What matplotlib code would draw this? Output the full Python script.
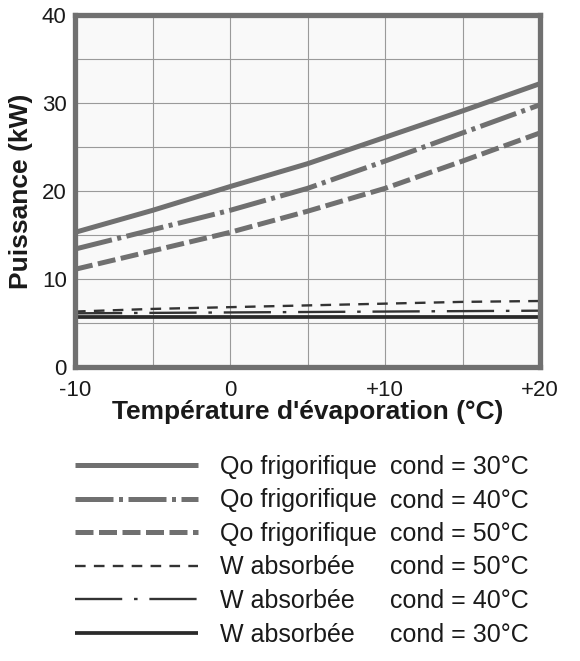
import matplotlib
matplotlib.use('Agg')
import matplotlib.pyplot as plt
from matplotlib.lines import Line2D
from matplotlib.ticker import MultipleLocator

plt.rcParams['font.family'] = ['Liberation Sans', 'DejaVu Sans']

# Température d'évaporation (°C)
temps = [-10, -5, 0, 5, 10, 15, 20]

# Puissance (kW)
qo_30 = [15.3, 17.8, 20.5, 23.1, 26.1, 29.1, 32.2]
qo_40 = [13.4, 15.6, 17.8, 20.3, 23.4, 26.6, 29.8]
qo_50 = [11.1, 13.2, 15.3, 17.7, 20.3, 23.4, 26.6]
w_50 = [6.3, 6.6, 6.8, 7.0, 7.2, 7.4, 7.5]
w_40 = [6.1, 6.15, 6.2, 6.25, 6.3, 6.35, 6.4]
w_30 = [5.65, 5.65, 5.65, 5.65, 5.65, 5.65, 5.65]

kinds = ['Qo frigorifique', 'Qo frigorifique', 'Qo frigorifique',
         'W absorbée', 'W absorbée', 'W absorbée']
conds = ['cond = 30°C', 'cond = 40°C', 'cond = 50°C',
         'cond = 50°C', 'cond = 40°C', 'cond = 30°C']

x_ticks = [-10, 0, 10, 20]
x_labels = ['-10', '0', '+10', '+20']

grey = '#707070'
dark = '#333333'
txt = '#1a1a1a'

fig = plt.figure(figsize=(5.8, 6.61), dpi=100)
ax = fig.add_axes([75 / 580, 1 - 367 / 661, 465 / 580, 352 / 661])
ax.set_facecolor('#f9f9f9')

series = [
    (qo_30, dict(color=grey, lw=3.6, linestyle='-')),
    (qo_40, dict(color=grey, lw=3.6, linestyle=(0, (7.6, 1.1, 0.8, 1.1)))),
    (qo_50, dict(color=grey, lw=3.6, linestyle=(0, (3.6, 1.1)))),
    (w_50, dict(color=dark, lw=1.7, linestyle=(0, (4.5, 3.5)))),
    (w_40, dict(color=dark, lw=1.7, linestyle=(0, (20, 5, 1.5, 5)))),
    (w_30, dict(color='#2a2a2a', lw=2.7, linestyle='-')),
]
handles = []
for vals, style in series:
    line, = ax.plot(temps, vals, solid_capstyle='butt', dash_capstyle='butt', **style)
    handles.append(line)

ax.set_xlim(-10, 20)
ax.set_ylim(0, 40)
ax.set_xticks(x_ticks)
ax.set_xticklabels(x_labels)
ax.xaxis.set_minor_locator(MultipleLocator(5))
ax.yaxis.set_major_locator(MultipleLocator(10))
ax.yaxis.set_minor_locator(MultipleLocator(5))
ax.grid(True, which='both', color='#9a9a9a', lw=0.8)
ax.set_axisbelow(True)
ax.tick_params(which='both', length=0, labelsize=16, labelcolor=txt)
ax.tick_params(axis='x', pad=9)
ax.tick_params(axis='y', pad=6)
for sp in ax.spines.values():
    sp.set_color(grey)
    sp.set_linewidth(3.8)
for lab in ax.get_yticklabels():
    lab.set_verticalalignment('center_baseline')

ax.set_xlabel("Température d'évaporation (°C)", fontsize=19, fontweight='bold', color=txt, labelpad=0)
ax.set_ylabel('Puissance (kW)', fontsize=19, fontweight='bold', color=txt, labelpad=6)

leg1 = fig.legend(handles, kinds, loc='upper left', bbox_to_anchor=(75 / 580, 1 - 455 / 661),
                  frameon=False, fontsize=18, handlelength=4.9, handletextpad=0.9,
                  labelspacing=0.38, borderpad=0, borderaxespad=0)
for t in leg1.get_texts():
    t.set_color(txt)

blank = [Line2D([], [], linestyle='none') for _ in conds]
leg2 = fig.legend(blank, conds, loc='upper left', bbox_to_anchor=(390 / 580, 1 - 455 / 661),
                  frameon=False, fontsize=18, handlelength=0, handletextpad=0,
                  labelspacing=0.38, borderpad=0, borderaxespad=0)
for t in leg2.get_texts():
    t.set_color(txt)

fig.savefig('out.png', dpi=100)
